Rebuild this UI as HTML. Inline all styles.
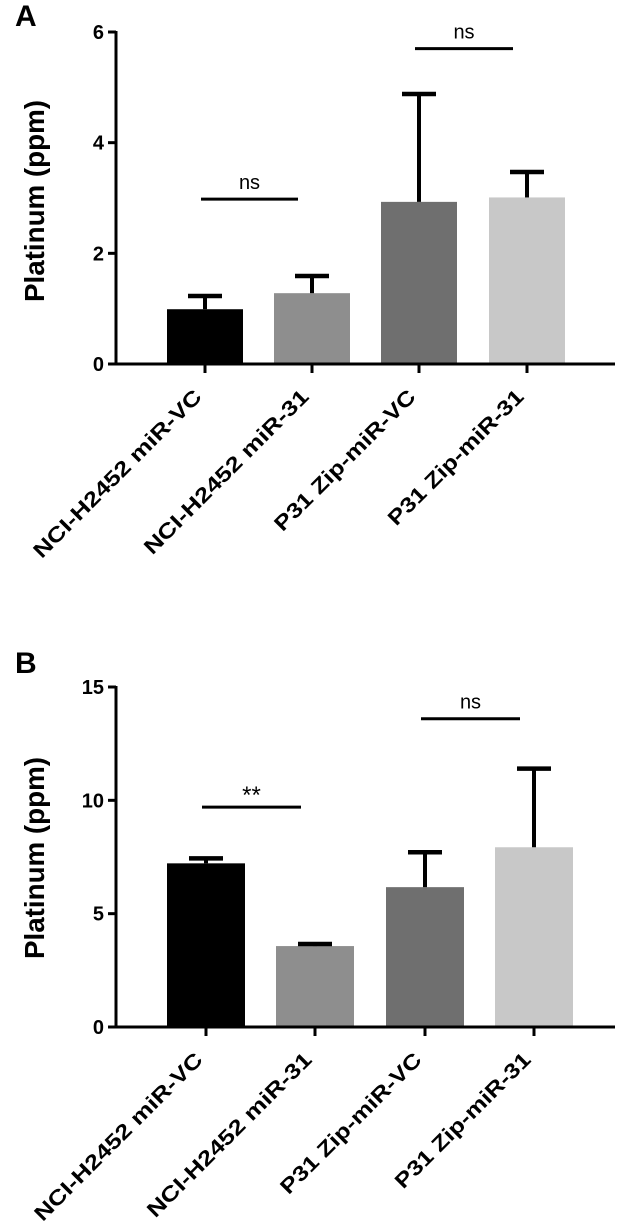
<!DOCTYPE html>
<html><head><meta charset="utf-8"><style>
html,body{margin:0;padding:0;background:#fff;}
svg{display:block;font-family:"Liberation Sans",Arial,sans-serif;font-weight:bold;}
</style></head><body>
<svg id="chart" width="629" height="1227" viewBox="0 0 629 1227" xmlns="http://www.w3.org/2000/svg"></svg>
<script>
const categories = ["NCI-H2452 miR-VC","NCI-H2452 miR-31","P31 Zip-miR-VC","P31 Zip-miR-31"];
const colors = ["#000000","#8e8e8e","#6f6f6f","#c8c8c8"];
const valuesA = [0.99, 1.28, 2.93, 3.01];
const errTopA = [1.23, 1.59, 4.88, 3.47];
const ticksA = [0, 2, 4, 6];
const valuesB = [7.22, 3.57, 6.17, 7.93];
const errTopB = [7.44, 3.66, 7.71, 11.4];
const ticksB = [0, 5, 10, 15];
const sigA = [{from:0,to:1,level:2.98,label:"ns"},{from:2,to:3,level:5.7,label:"ns"}];
const sigB = [{from:0,to:1,level:9.7,label:"**"},{from:2,to:3,level:13.6,label:"ns"}];

const NS = "http://www.w3.org/2000/svg";
const svg = document.getElementById('chart');
function mk(tag, attrs, parent){ const e=document.createElementNS(NS,tag); for(const k in attrs) e.setAttribute(k,attrs[k]); (parent||svg).appendChild(e); return e; }

function panel(cfg){
  const g = mk('g',{});
  
  
  const x0=cfg.axisX, x1=615, yTop=cfg.yTop, yBot=cfg.yBot, maxV=cfg.ticks[cfg.ticks.length-1];
  const y = v => yBot - (v/maxV)*(yBot-yTop);
  const xc = i => cfg.centers[i];
  const bw = cfg.barW;
  const L = mk('text',{x:15,y:cfg.letterY,'font-size':30,fill:'#000'},g); L.textContent=cfg.letter;
  
  
  cfg.values.forEach((v,i)=>{
    const r = mk('rect',{x:xc(i)-bw/2,y:y(v),width:bw,height:yBot-y(v),fill:colors[i]},g);
    
    
    const e = mk('g',{},g);
    
    
    mk('line',{x1:xc(i),x2:xc(i),y1:y(v),y2:y(cfg.err[i]),stroke:'#000','stroke-width':4},e);
    mk('line',{x1:xc(i)-17,x2:xc(i)+17,y1:y(cfg.err[i]),y2:y(cfg.err[i]),stroke:'#000','stroke-width':4.5},e);
  });
  const ya = mk('g',{},g);
  
  
  mk('line',{x1:x0,x2:x0,y1:yTop-1,y2:yBot+1.5,stroke:'#000','stroke-width':3},ya);
  cfg.ticks.forEach(t=>{
    mk('line',{x1:x0-8,x2:x0,y1:y(t),y2:y(t),stroke:'#000','stroke-width':3},ya);
    const tx = mk('text',{x:x0-12,y:y(t)+7,'font-size':20,'text-anchor':'end',fill:'#000'},ya);
    tx.textContent=t;
    
    
  });
  const xa = mk('g',{},g);
  
  
  mk('line',{x1:x0-8,x2:x1,y1:yBot,y2:yBot,stroke:'#000','stroke-width':3},xa);
  categories.forEach((c,i)=>{
    mk('line',{x1:xc(i),x2:xc(i),y1:yBot,y2:yBot+9,stroke:'#000','stroke-width':3},xa);
    const tx = mk('text',{transform:`translate(${xc(i)-2},${yBot+34}) rotate(-45)`,'text-anchor':'end','font-size':21,fill:'#000',textLength:cfg.labelLen[i],lengthAdjust:'spacingAndGlyphs'},xa);
    tx.textContent=c;
    
    
  });
  const yt = mk('text',{transform:`translate(${cfg.titleX},${cfg.titleY}) rotate(-90)`,'text-anchor':'middle','font-size':28,fill:'#000',textLength:202,lengthAdjust:'spacingAndGlyphs'},g);
  yt.textContent='Platinum (ppm)';
  
  
  cfg.sig.forEach(s=>{
    const sg = mk('g',{},g);
    
    
    const a = xc(s.from)-4, b = xc(s.to)-14;
    mk('line',{x1:a,x2:b,y1:y(s.level),y2:y(s.level),stroke:'#000','stroke-width':3},sg);
    const st = mk('text',{x:(a+b)/2,y:y(s.level)-(s.label==='**'?4:10),'text-anchor':'middle','font-size':s.label==='**'?24:20,'font-weight':'normal',fill:'#000'},sg);
    st.textContent=s.label;
  });
}
panel({name:'panel-a',letter:'A',letterY:26,axisX:116,yTop:32,yBot:364,ticks:ticksA,values:valuesA,err:errTopA,sig:sigA,
  centers:[205,312,419,527],barW:76,titleX:44,titleY:201,labelLen:[228,223,190,182]});
panel({name:'panel-b',letter:'B',letterY:673,axisX:116,yTop:687,yBot:1027,ticks:ticksB,values:valuesB,err:errTopB,sig:sigB,
  centers:[206,315,425,534],barW:78,titleX:44,titleY:858,labelLen:[228,223,190,182]});
</script>
</body></html>
